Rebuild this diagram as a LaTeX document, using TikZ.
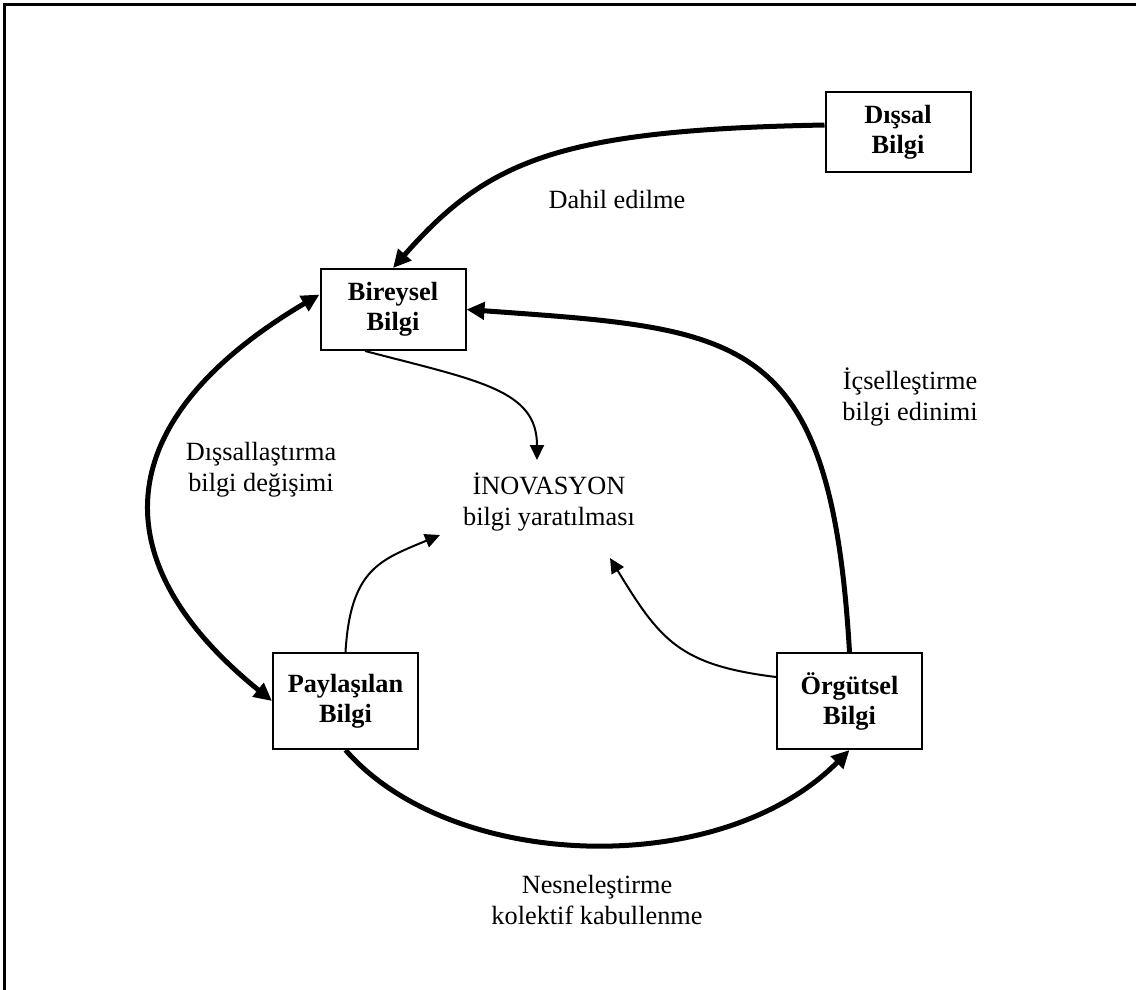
\documentclass[tikz,border=0pt]{standalone}
\usepackage{fontspec}
\setmainfont{Liberation Serif}
\usetikzlibrary{arrows.meta}
\begin{document}
\begin{tikzpicture}[x=1pt,y=-1pt,
  box/.style={draw,line width=2pt,align=center,inner sep=0pt,
    font=\bfseries\fontsize{26.3}{30}\selectfont,minimum width=145pt},
  lbl/.style={align=center,inner sep=0pt,font=\fontsize{26.3}{31}\selectfont},
  big/.style={line width=5pt,-{Triangle[length=18pt,width=17pt]}},
  small/.style={line width=2pt,-{Triangle[length=15pt,width=14pt]}}]
\useasboundingbox (0,0) rectangle (1136,990);

% open frame (top and left edges)
\draw[line width=3pt] (4.5,990) -- (4.5,4.5) -- (1136,4.5);

% knowledge boxes
\node[box,minimum height=80pt] (dis) at (898,132) {Dışsal\\Bilgi};
\node[box,minimum height=81pt] (bir) at (393,309.5) {Bireysel\\Bilgi};
\node[box,minimum height=96pt] (pay) at (345.5,701) {Paylaşılan\\Bilgi};
\node[box,minimum height=96pt] (org) at (849.5,701) {Örgütsel\\Bilgi};

% labels
\node[lbl] (dahil) at (617,200) {Dahil edilme};
\node[lbl] (disl) at (261,470) {Dışsallaştırma\\bilgi değişimi};
\node[lbl] (ino) at (549,502) {İNOVASYON\\bilgi yaratılması};
\node[lbl] (icl) at (910,397) {İçselleştirme\\bilgi edinimi};
\node[lbl] (nes) at (597,900) {Nesneleştirme\\kolektif kabullenme};

% arrow ends around the innovation label
\coordinate (inoTop) at (537,460);
\coordinate (inoLeft) at (440,535);
\coordinate (inoRight) at (610,558);

% knowledge flows
\draw[big] ([yshift=7pt]dis.west) .. controls +(-266,5) and +(95,-108) .. (bir.north);
\draw[big] (org.north) .. controls +(-19,-323) and +(275,20) .. (bir.east);
\draw[line width=5pt,{Triangle[length=18pt,width=17pt]}-{Triangle[length=18pt,width=17pt]}]
  (pay.west) .. controls +(-173,-140) and +(-211,125) .. ([yshift=15pt]bir.west);
\draw[big] (pay.south) .. controls +(105,121) and +(-130,131) .. (org.south);

% contributions to innovation
\draw[small] ([xshift=-28pt]bir.south) .. controls +(115,30) and +(0,-70) .. (inoTop);
\draw[small] (pay.north) .. controls +(5,-83) and +(-60,25) .. (inoLeft);
\draw[small] ([yshift=24pt]org.west) .. controls +(-97,-12) and +(50,82) .. (inoRight);
\end{tikzpicture}
\end{document}
